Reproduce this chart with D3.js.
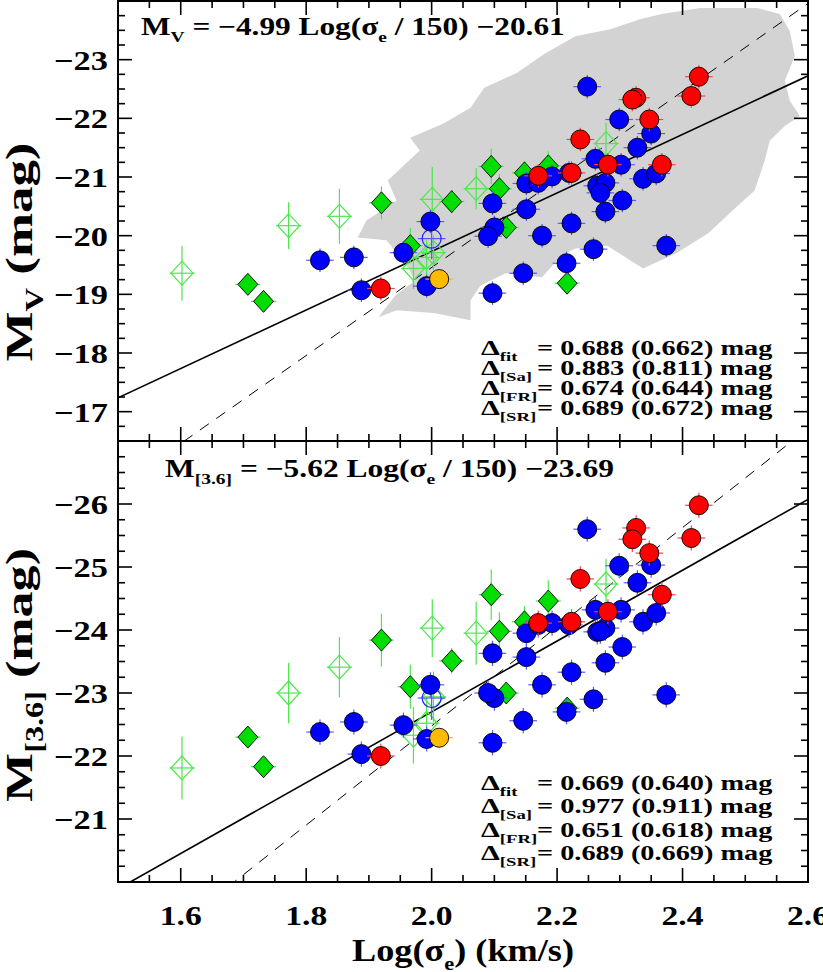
<!DOCTYPE html>
<html><head><meta charset="utf-8">
<script src="https://cdn.jsdelivr.net/npm/d3@7"></script>
<style>
body{margin:0;background:#fff}
svg{display:block}
svg text{font-family:"Liberation Serif","Times New Roman","DejaVu Serif",serif;font-weight:bold}
</style>
</head><body>
<svg id="chart" width="823" height="972"></svg>
<script>
// ---------------- DATA ----------------
const xTicks = [1.6, 1.8, 2.0, 2.2, 2.4, 2.6];
const yTicksV = [-23, -22, -21, -20, -19, -18, -17];
const yTicks36 = [-26, -25, -24, -23, -22, -21];

// blue circles
const blueLogSig = [2.248,2.299,2.350,2.328,2.261,2.302,2.337,2.358,2.264,2.277,2.304,2.277,2.223,2.176,2.258,2.215,2.146,2.097,2.374,2.151,2.170,2.192,2.219,2.097,2.151,2.100,2.090,1.998,1.955,1.876,1.822,1.888,1.992,2.269];
const blueMV = [-22.54,-21.98,-21.74,-21.50,-21.31,-21.21,-20.97,-21.06,-20.85,-20.90,-20.60,-20.41,-20.21,-20.00,-19.77,-19.53,-19.36,-19.02,-19.83,-20.89,-20.90,-21.01,-21.07,-20.55,-20.45,-20.14,-19.99,-20.24,-19.71,-19.63,-19.58,-19.07,-19.14,-20.73];
const blueM36 = [-25.60,-25.02,-25.03,-24.75,-24.32,-24.32,-24.13,-24.27,-23.97,-24.03,-23.73,-23.48,-23.33,-23.13,-22.90,-22.70,-22.56,-22.21,-22.97,-23.95,-24.08,-24.11,-24.08,-23.63,-23.57,-22.92,-23.00,-23.13,-22.49,-22.54,-22.38,-22.03,-22.27,-23.98];

// red circles
const redLogSig = [2.426,2.414,2.326,2.320,2.347,2.237,2.367,2.281,2.223,2.170,1.919];
const redMV = [-22.71,-22.38,-22.35,-22.32,-21.98,-21.64,-21.21,-21.21,-21.07,-21.02,-19.10];
const redM36 = [-25.98,-25.46,-25.62,-25.44,-25.22,-24.81,-24.56,-24.29,-24.13,-24.11,-22.00];

// orange circle
const orangeLogSig = [2.012];
const orangeMV = [-19.26];
const orangeM36 = [-22.29];

// open blue circle
const openBlueLogSig = [2.000];
const openBlueMV = [-19.95];
const openBlueM36 = [-22.92];

// filled green diamonds
const greenLogSig = [2.095,2.108,2.148,2.186,1.920,2.032,2.119,1.966,1.707,1.732,2.216];
const greenMV = [-21.18,-20.80,-21.07,-21.19,-20.56,-20.58,-20.14,-19.83,-19.17,-18.88,-19.19];
const greenM36 = [-24.56,-23.98,-24.13,-24.46,-23.84,-23.51,-23.00,-23.10,-22.30,-21.83,-22.76];
const greenErrMV = [0.30,0.25,0.20,0.25,0.28,0.20,0.15,0.30,0.10,0.10,0.15];
const greenErrM36 = [0.40,0.30,0.25,0.33,0.42,0.20,0.15,0.35,0.10,0.10,0.15];

// open green diamonds
const openGreenLogSig = [1.602,1.772,1.853,2.001,2.071,2.003,1.992,1.971,2.278];
const openGreenMV = [-19.36,-20.17,-20.33,-20.62,-20.80,-19.71,-19.63,-19.44,-21.57];
const openGreenM36 = [-21.81,-23.00,-23.41,-24.03,-23.95,-22.94,-22.52,-22.33,-24.73];
const openGreenErrMV = [0.47,0.40,0.47,0.55,0.35,0.30,0.30,0.35,0.35];
const openGreenErrM36 = [0.50,0.48,0.48,0.46,0.50,0.40,0.40,0.45,0.40];

const circleErrX = 0.022, circleErrY = 0.2, diamondErrX = 0.02;

// grey density region (top panel), [logSigma, MV]
const greyRegion = [[2.180,-23.10],[2.229,-23.40],[2.285,-23.52],[2.332,-23.69],[2.367,-23.78],[2.428,-23.88],[2.519,-23.88],[2.555,-23.78],[2.571,-23.49],[2.579,-23.06],[2.563,-22.64],[2.571,-22.30],[2.587,-22.04],[2.563,-21.87],[2.539,-21.62],[2.531,-21.28],[2.515,-20.77],[2.485,-20.48],[2.441,-20.04],[2.390,-19.70],[2.337,-19.44],[2.280,-19.83],[2.229,-19.78],[2.207,-19.66],[2.176,-19.29],[2.118,-19.36],[2.078,-19.15],[2.062,-18.90],[2.062,-18.56],[2.003,-18.68],[1.944,-18.73],[1.915,-18.61],[1.942,-18.98],[1.974,-19.24],[1.957,-19.54],[1.928,-19.92],[1.882,-19.97],[1.896,-20.26],[1.944,-20.60],[1.930,-20.94],[1.981,-21.45],[1.966,-21.67],[2.019,-21.91],[2.062,-22.18],[2.084,-22.52],[2.137,-22.78]];

// fit lines: M = slope*(logSig - log10(150)) + zero
const fitSlope = [-4.99, -5.62];
const fitZero = [-20.61, -23.69];
// dashed reference relations: M = slope*(logSig - pivot) + zero
const refSlope = [-7.5, -7.87];
const refPivot = [2.055, 2.055];
const refZero = [-19.87, -22.91];

const eqCoef = ["−4.99", "−5.62"];
const eqZero = ["−20.61", "−23.69"];
const deltaSubs = ["fit", "[Sa]", "[FR]", "[SR]"];
const deltaV = ["0.688 (0.662)", "0.883 (0.811)", "0.674 (0.644)", "0.689 (0.672)"];
const delta36 = ["0.669 (0.640)", "0.977 (0.911)", "0.651 (0.618)", "0.689 (0.669)"];

// ---------------- LAYOUT ----------------
const svg = d3.select("#chart");
const L = 118, R = 808;
const x = d3.scaleLinear().domain([1.5, 2.6]).range([L, R]);
const panels = [
  {y: d3.scaleLinear().domain([-24, -16.5]).range([1, 441]), top: 1, bot: 441, ticks: yTicksV},
  {y: d3.scaleLinear().domain([-27, -20]).range([441, 882]), top: 441, bot: 882, ticks: yTicks36}
];
const LOG150 = Math.log10(150);

function richText(parent, o) {
  const outer = parent.append("g").attr("transform", `translate(${o.x},${o.y})` + (o.rotate ? ` rotate(${o.rotate})` : ""));
  const inner = outer.append("g");
  const t = inner.append("text").attr("text-anchor", o.anchor || "start")
    .attr("font-size", o.size).attr("fill", "#000");
  let shifted = 0;
  o.parts.forEach(p => {
    const ts = t.append("tspan").text(p.t);
    if (p.sub) {
      ts.attr("font-size", o.size * 0.62);
      const d = o.size * 0.27;
      ts.attr("dy", d - shifted); shifted = d;
    } else if (shifted) {
      ts.attr("dy", -shifted); shifted = 0;
    }
  });
  let sx = o.scale || 1;
  if (o.width) { sx = o.width / t.node().getBBox().width; }
  inner.attr("transform", `scale(${sx},1)`);
  return {outer, inner, text: t, sx};
}

const clips = svg.append("defs");
panels.forEach((p, i) => {
  clips.append("clipPath").attr("id", "clip" + i).append("rect")
    .attr("x", L).attr("y", p.top).attr("width", R - L).attr("height", p.bot - p.top);
});

// grey region
svg.append("g").attr("clip-path", "url(#clip0)").append("path")
  .datum(greyRegion)
  .attr("d", d3.line().x(d => x(d[0])).y(d => panels[0].y(d[1])).curve(d3.curveLinearClosed))
  .attr("fill", "#d3d3d3").attr("stroke", "none");

// lines
panels.forEach((p, i) => {
  const g = svg.append("g").attr("clip-path", `url(#clip${i})`);
  const xs = [1.5, 2.6];
  const fit = xs.map(v => [v, fitSlope[i] * (v - LOG150) + fitZero[i]]);
  const ref = xs.map(v => [v, refSlope[i] * (v - refPivot[i]) + refZero[i]]);
  const ln = d3.line().x(d => x(d[0])).y(d => p.y(d[1]));
  g.append("path").attr("d", ln(ref)).attr("fill", "none").attr("stroke", "#000")
    .attr("stroke-width", 1).attr("stroke-dasharray", "11,9");
  g.append("path").attr("d", ln(fit)).attr("fill", "none").attr("stroke", "#000").attr("stroke-width", 1.6);
});

// markers
function zipPts(xs, ys) { return xs.map((v, k) => ({x: v, y: ys[k], k})); }
function drawGroup(g, y, pts, opt) {
  const eb = g.append("g").attr("stroke", opt.errColor).attr("stroke-width", opt.errWidth || 1.2);
  pts.forEach(d => {
    const ex = opt.ex, ey = opt.ey(d);
    eb.append("line").attr("x1", x(d.x - ex)).attr("x2", x(d.x + ex)).attr("y1", y(d.y)).attr("y2", y(d.y));
    eb.append("line").attr("x1", x(d.x)).attr("x2", x(d.x)).attr("y1", y(d.y - ey)).attr("y2", y(d.y + ey));
  });
  const mk = g.append("g");
  pts.forEach(d => {
    if (opt.shape === "circle") {
      mk.append("circle").attr("cx", x(d.x)).attr("cy", y(d.y)).attr("r", 9.5)
        .attr("fill", opt.fill).attr("stroke", opt.stroke).attr("stroke-width", opt.sw || 0.9);
    } else {
      const hx = opt.hx, hy = opt.hy, cx = x(d.x), cy = y(d.y);
      mk.append("path").attr("d", `M${cx},${cy - hy}L${cx + hx},${cy}L${cx},${cy + hy}L${cx - hx},${cy}Z`)
        .attr("fill", opt.fill).attr("stroke", opt.stroke).attr("stroke-width", opt.sw || 0.9);
    }
  });
}

panels.forEach((p, i) => {
  const g = svg.append("g");
  const y = p.y;
  const sel = (a, b) => i === 0 ? a : b;
  drawGroup(g, y, zipPts(openGreenLogSig, sel(openGreenMV, openGreenM36)), {
    shape: "diamond", hx: 11, hy: 12, fill: "none", stroke: "#4de64d", sw: 1.2,
    errColor: "#4de64d", ex: diamondErrX, ey: d => sel(openGreenErrMV, openGreenErrM36)[d.k]});
  drawGroup(g, y, zipPts(greenLogSig, sel(greenMV, greenM36)), {
    shape: "diamond", hx: 10, hy: 11, fill: "#00dd00", stroke: "#000",
    errColor: "#4de64d", ex: diamondErrX, ey: d => sel(greenErrMV, greenErrM36)[d.k]});
  drawGroup(g, y, zipPts(openBlueLogSig, sel(openBlueMV, openBlueM36)), {
    shape: "circle", fill: "none", stroke: "#2222ff", sw: 1.2,
    errColor: "#5555ff", ex: circleErrX, ey: () => 0.35});
  drawGroup(g, y, zipPts(blueLogSig, sel(blueMV, blueM36)), {
    shape: "circle", fill: "#0000ff", stroke: "#000",
    errColor: "#5a5aff", ex: circleErrX, ey: () => circleErrY});
  drawGroup(g, y, zipPts(orangeLogSig, sel(orangeMV, orangeM36)), {
    shape: "circle", fill: "#ffbb00", stroke: "#000",
    errColor: "#ffbb00", ex: circleErrX, ey: () => 0.1});
  drawGroup(g, y, zipPts(redLogSig, sel(redMV, redM36)), {
    shape: "circle", fill: "#ff0000", stroke: "#000",
    errColor: "#ff4444", ex: circleErrX, ey: () => circleErrY});
});

// axes / ticks
const xMinor = d3.range(31, 52).map(k => +(k * 0.05).toFixed(2)).filter(v => !xTicks.some(t => Math.abs(t - v) < 1e-6));
panels.forEach((p, i) => {
  const y = p.y;
  const dom = y.domain();
  const yMinor = d3.range(Math.ceil(dom[0] * 4), Math.floor(dom[1] * 4) + 1).map(k => k / 4).filter(v => !Number.isInteger(v));
  const yMajor = d3.range(Math.ceil(dom[0]), Math.floor(dom[1]) + 1);
  const g = svg.append("g").attr("stroke", "#000").attr("stroke-width", 1.6);
  const tick = (x1, y1, x2, y2) => g.append("line").attr("x1", x1).attr("y1", y1).attr("x2", x2).attr("y2", y2);
  xTicks.forEach(v => { tick(x(v), p.bot, x(v), p.bot - 14); tick(x(v), p.top, x(v), p.top + 14); });
  xMinor.forEach(v => { tick(x(v), p.bot, x(v), p.bot - 7); tick(x(v), p.top, x(v), p.top + 7); });
  yMajor.forEach(v => { tick(L, y(v), L + 14, y(v)); tick(R, y(v), R - 14, y(v)); });
  yMinor.forEach(v => { tick(L, y(v), L + 7, y(v)); tick(R, y(v), R - 7, y(v)); });
  svg.append("rect").attr("x", L).attr("y", p.top).attr("width", R - L).attr("height", p.bot - p.top)
    .attr("fill", "none").attr("stroke", "#000").attr("stroke-width", 2);
  // y tick labels (3-character labels ~54 px wide)
  p.ticks.forEach(v => {
    richText(svg, {x: 108, y: y(v) + 10, anchor: "end", size: 27, width: 54,
      parts: [{t: d3.format("d")(v)}]});
  });
});

// x tick labels (~42 px wide)
xTicks.forEach(v => {
  richText(svg, {x: x(v), y: 925, anchor: "middle", size: 28, width: 42, parts: [{t: v.toFixed(1)}]});
});

// axis titles
richText(svg, {x: 463, y: 961, anchor: "middle", size: 32, width: 222,
  parts: [{t: "Log(σ"}, {t: "e", sub: true}, {t: ") (km/s)"}]});
richText(svg, {x: 32, y: 252, rotate: -90, anchor: "middle", size: 39, width: 219,
  parts: [{t: "M"}, {t: "V", sub: true}, {t: " (mag)"}]});
richText(svg, {x: 32, y: 675, rotate: -90, anchor: "middle", size: 39, width: 254,
  parts: [{t: "M"}, {t: "[3.6]", sub: true}, {t: " (mag)"}]});

// equations
richText(svg, {x: 141, y: 35, size: 25, width: 424,
  parts: [{t: "M"}, {t: "V", sub: true}, {t: " = " + eqCoef[0] + " Log(σ"}, {t: "e", sub: true}, {t: " / 150) " + eqZero[0]}]});
richText(svg, {x: 165, y: 477, size: 25, width: 449,
  parts: [{t: "M"}, {t: "[3.6]", sub: true}, {t: " = " + eqCoef[1] + " Log(σ"}, {t: "e", sub: true}, {t: " / 150) " + eqZero[1]}]});

// scatter statistics
const deltaBase = [[355, 375, 395, 415], [790, 813, 837, 860]];
const deltaVals = [deltaV, delta36];
const probe = richText(svg, {x: 0, y: -100, size: 21, parts: [{t: "Δ"}, {t: "[Sa]", sub: true}]});
const deltaScale = 51 / probe.text.node().getBBox().width;
probe.outer.remove();
[0, 1].forEach(i => {
  deltaSubs.forEach((s, j) => {
    const b = deltaBase[i][j];
    richText(svg, {x: 481, y: b, size: 21, scale: deltaScale, parts: [{t: "Δ"}, {t: s, sub: true}]});
    richText(svg, {x: 537, y: b, size: 21, width: 236, parts: [{t: "= " + deltaVals[i][j] + " mag"}]});
  });
});
</script>
</body></html>
